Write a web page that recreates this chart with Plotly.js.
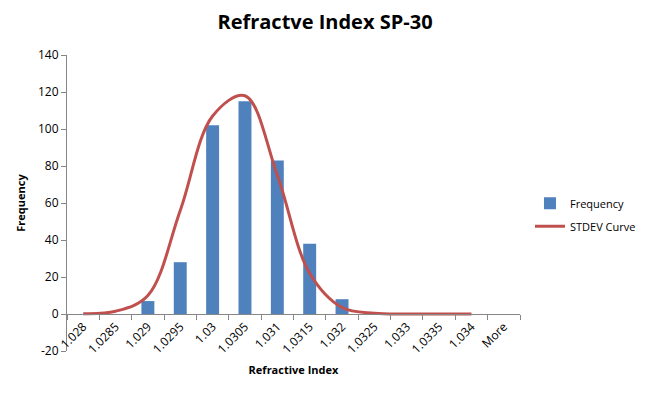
<!DOCTYPE html>
<html><head><meta charset="utf-8">
<script src="https://cdn.plot.ly/plotly-3.0.1.min.js"></script>
<style>body{margin:0;background:#fff}#c{width:650px;height:395px}</style>
</head><body><div id="c"></div>
<script>
var categories = ["1.028","1.0285","1.029","1.0295","1.03","1.0305","1.031","1.0315","1.032","1.0325","1.033","1.0335","1.034","More"];
var frequency = [0,0,7,28,102,115,83,38,8,0,0,0,0,0];
var curveCategories = ["1.028","1.0285","1.029","1.0295","1.03","1.0305","1.031","1.0315","1.032","1.0325","1.033","1.0335","1.034"];
var stdevCurve = [0.2,1.5,10,56,107,118,75,22,3.5,0.4,0,0,0];
var yTickVals = [-20,0,20,40,60,80,100,120,140];
var yTickText = ["-20","0","20","40","60","80","100","120","140"];

var font = "Open Sans, Noto Sans, sans-serif";
var data = [
  {type:'bar', x:categories, y:frequency, name:'Frequency', marker:{color:'#4F81BD'}, legendgroup:'a'},
  {type:'scatter', mode:'lines', x:curveCategories, y:stdevCurve, name:'STDEV Curve', legendgroup:'b',
   line:{color:'#C0504D', width:3, shape:'spline', smoothing:1}}
];
var layout = {
  width:650, height:395,
  margin:{l:67, r:130, t:55, b:44, autoexpand:false},
  paper_bgcolor:'#fff', plot_bgcolor:'#fff',
  font:{family:font, size:11, color:'#000'},
  title:{text:'<b>Refractve Index SP-30</b>', font:{size:20, family:'Open Sans, sans-serif', color:'#000'}, x:0.5, xanchor:'center', y:0.945, yanchor:'middle'},
  bargap:0.6,
  showlegend:true,
  legend:{x:1.022, xanchor:'left', y:0.46, yanchor:'middle', font:{size:11}, tracegroupgap:4, itemwidth:30},
  xaxis:{type:'category', categoryorder:'array', categoryarray:categories,
    anchor:'free', position:0.125,
    showline:true, linecolor:'#868686', linewidth:1,
    ticks:'outside', tickson:'boundaries', ticklen:5, tickcolor:'#868686',
    tickangle:-45, tickfont:{size:12},
    showgrid:false, zeroline:false,
    title:{text:'<b>Refractive Index</b>', font:{size:11}, standoff:10}},
  yaxis:{range:[-20,140], tickvals:yTickVals, ticktext:yTickText, showline:true, linecolor:'#868686', linewidth:1,
    ticks:'outside', ticklen:5, tickcolor:'#868686', showgrid:false, zeroline:false,
    tickfont:{size:12},
    title:{text:'<b>Frequency</b>', font:{size:11}, standoff:10}}
};
Plotly.newPlot('c', data, layout, {displayModeBar:false, staticPlot:true});
</script></body></html>
